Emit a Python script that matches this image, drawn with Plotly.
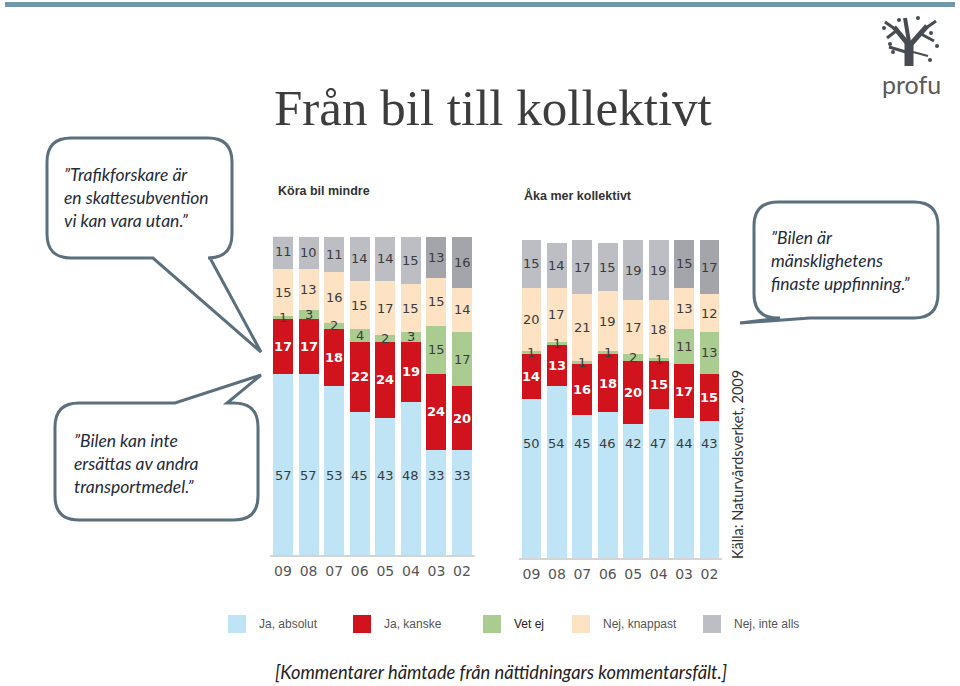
import plotly.graph_objects as go

# survey years, newest first as in the source
years = ['09', '08', '07', '06', '05', '04', '03', '02']

series_names = ['Ja, absolut', 'Ja, kanske', 'Vet ej', 'Nej, knappast', 'Nej, inte alls']

# "Köra bil mindre"
kora_ja_absolut = [57, 57, 53, 45, 43, 48, 33, 33]
kora_ja_kanske = [17, 17, 18, 22, 24, 19, 24, 20]
kora_vet_ej = [1, 3, 2, 4, 2, 3, 15, 17]
kora_nej_knappast = [15, 13, 16, 15, 17, 15, 15, 14]
kora_nej_inte_alls = [11, 10, 11, 14, 14, 15, 13, 16]

# "Åka mer kollektivt"
aka_ja_absolut = [50, 54, 45, 46, 42, 47, 44, 43]
aka_ja_kanske = [14, 13, 16, 18, 20, 15, 17, 15]
aka_vet_ej = [1, 1, 1, 1, 2, 1, 11, 13]
aka_nej_knappast = [20, 17, 21, 19, 17, 18, 13, 12]
aka_nej_inte_alls = [15, 14, 17, 15, 19, 19, 15, 17]

colors = ['#bfe4f6', '#d0131c', '#abcc90', '#fde3c4', '#bdbec3']
gray_dark = '#a4a5ab'  # 03 and 02 are drawn a shade darker in the source

W, H = 960, 686


def px(x):
    return x / W


def py(y):
    return 1 - y / H


fig = go.Figure()


def add_panel(fig, values, xa, ya, blue_label_y):
    for k, (name, vals) in enumerate(zip(series_names, values)):
        col = colors[k]
        if k == 4:
            col = [colors[k]] * 6 + [gray_dark] * 2
        fig.add_trace(go.Bar(x=years, y=vals, name=name, marker_color=col,
                             marker_line_width=0, xaxis=xa, yaxis=ya,
                             showlegend=False, hoverinfo='x+y+name'))
    # value labels
    for i, yr in enumerate(years):
        base = 0
        for k, vals in enumerate(values):
            v = vals[i]
            ypos = blue_label_y if k == 0 else base + v / 2
            red = k == 1
            fig.add_annotation(x=i, y=ypos, xref=xa, yref=ya, text=f'<b>{v}</b>' if red else str(v),
                               showarrow=False, xanchor='center', yanchor='middle',
                               font=dict(family='DejaVu Sans', size=13,
                                         color='white' if red else '#3b3b3b'))
            base += v


add_panel(fig, [kora_ja_absolut, kora_ja_kanske, kora_vet_ej, kora_nej_knappast, kora_nej_inte_alls],
          'x', 'y', 25)
add_panel(fig, [aka_ja_absolut, aka_ja_kanske, aka_vet_ej, aka_nej_knappast, aka_nej_inte_alls],
          'x2', 'y2', 36)

xcommon = dict(type='category', categoryorder='array', categoryarray=years, range=[-0.5, 7.5],
               showgrid=False, zeroline=False, showline=True, linecolor='#d4d4d4',
               linewidth=2, ticks='outside', ticklen=2, tickcolor='rgba(0,0,0,0)',
               tickfont=dict(family='DejaVu Sans', size=14, color='#555555'), fixedrange=True)
ycommon = dict(range=[0, 100], visible=False, fixedrange=True)

fig.update_layout(
    width=W, height=H, margin=dict(l=0, r=0, t=0, b=0),
    paper_bgcolor='white', plot_bgcolor='rgba(0,0,0,0)',
    barmode='stack', bargap=0.22,
    xaxis=dict(domain=[0.2815, 0.4946], anchor='y', **xcommon),
    yaxis=dict(domain=[py(555), py(236.7)], anchor='x', **ycommon),
    xaxis2=dict(domain=[0.5404, 0.7523], anchor='y2', **xcommon),
    yaxis2=dict(domain=[py(558), py(240)], anchor='x2', **ycommon),
)

shapes = []
annos = []

# top band
shapes.append(dict(type='rect', x0=px(5), x1=px(955), y0=py(2), y1=py(7),
                   fillcolor='#6f98aa', line_width=0))

# title
annos.append(dict(x=493, y=108, text='Från bil till kollektivt',
                  font=dict(family='Liberation Serif, Times New Roman, serif', size=51, color='#3d3d3d')))

# panel titles
annos.append(dict(x=276, y=191, xanchor='left', text='<b>Köra bil mindre</b>',
                  font=dict(family='Liberation Sans', size=12.5, color='#333333')))
annos.append(dict(x=522, y=195, xanchor='left', text='<b>Åka mer kollektivt</b>',
                  font=dict(family='Liberation Sans', size=12.5, color='#333333')))

# source
annos.append(dict(x=737, y=465, text='Källa: Naturvårdsverket, 2009', textangle=-90,
                  font=dict(family='Lato', size=14.5, color='#333333')))

# bottom caption
annos.append(dict(x=501, y=672, text='[Kommentarer hämtade från nättidningars kommentarsfält.]',
                  font=dict(family='Lato', size=18.3, color='#222222', style='italic')))

# legend
legend_x = [228, 353, 483, 572, 703]
for k, name in enumerate(series_names):
    x0 = legend_x[k]
    shapes.append(dict(type='rect', x0=px(x0), x1=px(x0 + 18), y0=py(633), y1=py(615),
                       fillcolor=colors[k], line_width=0))
    annos.append(dict(x=x0 + 29, y=624, xanchor='left', text=name,
                      font=dict(family='Liberation Sans', size=12,
                                color='#222222' if name == 'Vet ej' else '#555555')))


# speech bubbles (pixel coords converted to paper)
def pt(x, y):
    return f'{px(x):.5f},{py(y):.5f}'


def bubble_bottom(x0, y0, x1, y1, r, ta, tb, tip):
    # tail on the bottom edge, ta < tb
    return (f'M {pt(x0 + r, y0)} L {pt(x1 - r, y0)} Q {pt(x1, y0)} {pt(x1, y0 + r)} L {pt(x1, y1 - r)} '
            f'Q {pt(x1, y1)} {pt(x1 - r, y1)} L {pt(tb, y1)} L {pt(*tip)} L {pt(ta, y1)} '
            f'L {pt(x0 + r, y1)} Q {pt(x0, y1)} {pt(x0, y1 - r)} L {pt(x0, y0 + r)} '
            f'Q {pt(x0, y0)} {pt(x0 + r, y0)} Z')


def bubble_top(x0, y0, x1, y1, r, ta, tb, tip):
    return (f'M {pt(x0 + r, y0)} L {pt(ta, y0)} L {pt(*tip)} L {pt(tb, y0)} L {pt(x1 - r, y0)} '
            f'Q {pt(x1, y0)} {pt(x1, y0 + r)} L {pt(x1, y1 - r)} Q {pt(x1, y1)} {pt(x1 - r, y1)} '
            f'L {pt(x0 + r, y1)} Q {pt(x0, y1)} {pt(x0, y1 - r)} L {pt(x0, y0 + r)} '
            f'Q {pt(x0, y0)} {pt(x0 + r, y0)} Z')


bubble_line = dict(color='#5b6f7c', width=3)
for path in [bubble_bottom(47, 138, 232, 258, 24, 153, 210, (261, 352)),
             bubble_top(55, 403, 258, 520, 24, 175, 227, (261, 375)),
             bubble_bottom(754, 202, 938, 318, 24, 780, 810, (740, 323))]:
    shapes.append(dict(type='path', path=path, fillcolor='white', line=bubble_line))

quote_font = dict(family='Lato', size=17.5, color='#1f2b3a', style='italic')
annos.append(dict(x=62, y=198, xanchor='left', align='left', font=quote_font,
                  text='”Trafikforskare är<br>en skattesubvention<br>vi kan vara utan.”'))
annos.append(dict(x=72, y=463, xanchor='left', align='left', font=quote_font,
                  text='”Bilen kan inte<br>ersättas av andra<br>transportmedel.”'))
annos.append(dict(x=769, y=260, xanchor='left', align='left', font=quote_font,
                  text='”Bilen är<br>mänsklighetens<br>finaste uppfinning.”'))

# profu logo: rough tree + wordmark
tree = '#474c52'
branches = [
    ((909, 66), (909, 42), 9),
    ((908, 44), (894, 27), 5),
    ((895, 29), (885, 22), 3),
    ((896, 31), (887, 38), 3),
    ((909, 42), (905, 18), 4),
    ((911, 44), (927, 26), 5),
    ((926, 28), (936, 21), 3),
    ((921, 34), (934, 41), 3),
    ((906, 52), (889, 47), 3),
    ((913, 52), (928, 56), 2),
]
for (xa, ya), (xb, yb), w in branches:
    shapes.append(dict(type='line', x0=px(xa), y0=py(ya), x1=px(xb), y1=py(yb),
                       line=dict(color=tree, width=w)))
for cx, cy in [(884, 28), (890, 44), (899, 20), (931, 33), (937, 46), (930, 60), (918, 18), (893, 52)]:
    shapes.append(dict(type='circle', x0=px(cx - 2), x1=px(cx + 2), y0=py(cy + 2), y1=py(cy - 2),
                       fillcolor=tree, line_width=0))
annos.append(dict(x=911, y=84, text='profu', font=dict(family='Lato', size=25, color='#5a5a5a')))

for a in annos:
    a['x'] = px(a['x'])
    a['y'] = py(a['y'])
    a.setdefault('xanchor', 'center')
    a.setdefault('yanchor', 'middle')
    a.setdefault('xref', 'paper')
    a.setdefault('yref', 'paper')
    a.setdefault('showarrow', False)
    fig.add_annotation(**a)
for s in shapes:
    s.setdefault('xref', 'paper')
    s.setdefault('yref', 'paper')
    fig.add_shape(**s)

fig.write_html("out.html", config={'displayModeBar': False},
               post_script="document.body.style.margin='0';document.body.style.overflow='hidden';")
